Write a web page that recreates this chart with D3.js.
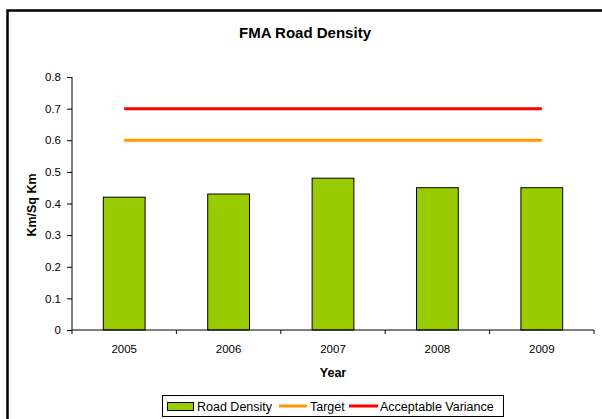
<!DOCTYPE html>
<html>
<head>
<meta charset="utf-8">
<script src="https://cdn.jsdelivr.net/npm/d3@7"></script>
<style>
  body { margin: 0; background: #fff; }
  svg { display: block; font-family: "Liberation Sans", Arial, sans-serif; }
</style>
</head>
<body>
<div id="chart"></div>
<script>
// data
var years = ["2005", "2006", "2007", "2008", "2009"];
var roadDensity = [0.42, 0.43, 0.48, 0.45, 0.45];
var target = [0.6, 0.6, 0.6, 0.6, 0.6];
var acceptableVariance = [0.7, 0.7, 0.7, 0.7, 0.7];
var yTicks = [0, 0.1, 0.2, 0.3, 0.4, 0.5, 0.6, 0.7, 0.8];

var W = 602, H = 419;
var margin = {left: 72, right: 8, top: 77, bottom: 89};

var svg = d3.select("#chart").append("svg")
    .attr("width", W)
    .attr("height", H);

// outer frame (runs off the right and bottom edge)
svg.append("rect")
    .attr("x", 7.5).attr("y", 10.5)
    .attr("width", 700).attr("height", 500)
    .attr("fill", "none")
    .attr("stroke", "#000")
    .attr("stroke-width", 2.5);

var x = d3.scaleBand()
    .domain(years)
    .range([margin.left, W - margin.right]);

var y = d3.scaleLinear()
    .domain([0, 0.8])
    .range([H - margin.bottom, margin.top]);

// title
svg.append("text")
    .attr("x", 305).attr("y", 38)
    .attr("text-anchor", "middle")
    .style("font-size", "15px")
    .style("font-weight", "bold")
    .text("FMA Road Density");

// y axis
var yAxis = svg.append("g")
    .attr("transform", "translate(" + margin.left + ",0)")
    .call(d3.axisLeft(y).tickValues(yTicks).tickSize(5).tickPadding(6)
        .tickFormat(function (d) { return d === 0 ? "0" : d3.format(".1f")(d); }));
yAxis.selectAll("text").style("font-size", "11.5px").attr("fill", "#000");
yAxis.selectAll("line, path").attr("stroke", "#000");
yAxis.select(".domain").attr("d", "M0," + y(0.8) + "V" + y(0));

// bars
var barW = x.bandwidth() / 2.5;
svg.append("g").selectAll("rect")
    .data(years)
    .join("rect")
    .attr("x", function (d) { return x(d) + (x.bandwidth() - barW) / 2; })
    .attr("y", function (d, i) { return y(roadDensity[i]); })
    .attr("width", barW)
    .attr("height", function (d, i) { return y(0) - y(roadDensity[i]); })
    .attr("fill", "#99cc00")
    .attr("stroke", "#000")
    .attr("stroke-width", 1);

// x axis, ticks between categories
var xAxisG = svg.append("g")
    .attr("transform", "translate(0," + y(0) + ")");
xAxisG.append("line")
    .attr("x1", x.range()[0]).attr("x2", x.range()[1])
    .attr("stroke", "#000");
var bounds = years.map(function (d) { return x(d); }).concat([x.range()[1]]);
xAxisG.selectAll("line.tk")
    .data(bounds)
    .join("line")
    .attr("class", "tk")
    .attr("x1", function (d) { return d; }).attr("x2", function (d) { return d; })
    .attr("y1", 0).attr("y2", 4)
    .attr("stroke", "#000");
xAxisG.selectAll("text")
    .data(years)
    .join("text")
    .attr("x", function (d) { return x(d) + x.bandwidth() / 2; })
    .attr("y", 23)
    .attr("text-anchor", "middle")
    .style("font-size", "11.5px")
    .text(function (d) { return d; });

// lines
var line = d3.line()
    .x(function (d, i) { return x(years[i]) + x.bandwidth() / 2; })
    .y(function (d) { return y(d); });

svg.append("path")
    .datum(target)
    .attr("fill", "none")
    .attr("stroke", "#ff9900")
    .attr("stroke-width", 3)
    .attr("d", line);

svg.append("path")
    .datum(acceptableVariance)
    .attr("fill", "none")
    .attr("stroke", "#ff0000")
    .attr("stroke-width", 3)
    .attr("d", line);

// axis titles
svg.append("text")
    .attr("x", (x.range()[0] + x.range()[1]) / 2)
    .attr("y", 377)
    .attr("text-anchor", "middle")
    .style("font-size", "12.5px")
    .style("font-weight", "bold")
    .text("Year");

svg.append("text")
    .attr("transform", "translate(36," + 205 + ") rotate(-90)")
    .attr("text-anchor", "middle")
    .style("font-size", "12.5px")
    .style("font-weight", "bold")
    .text("Km/Sq Km");

// legend
var legend = svg.append("g");
legend.append("rect")
    .attr("x", 162.5).attr("y", 395.5)
    .attr("width", 341).attr("height", 21)
    .attr("fill", "#fff")
    .attr("stroke", "#000");
legend.append("rect")
    .attr("x", 167.5).attr("y", 402.5)
    .attr("width", 26).attr("height", 8)
    .attr("fill", "#99cc00")
    .attr("stroke", "#000");
legend.append("text")
    .attr("x", 197).attr("y", 410.5)
    .style("font-size", "12.5px")
    .text("Road Density");
legend.append("line")
    .attr("x1", 279).attr("x2", 307)
    .attr("y1", 406).attr("y2", 406)
    .attr("stroke", "#ff9900").attr("stroke-width", 3);
legend.append("text")
    .attr("x", 310).attr("y", 410.5)
    .style("font-size", "12.5px")
    .text("Target");
legend.append("line")
    .attr("x1", 349).attr("x2", 378)
    .attr("y1", 406).attr("y2", 406)
    .attr("stroke", "#ff0000").attr("stroke-width", 3);
legend.append("text")
    .attr("x", 380).attr("y", 410.5)
    .style("font-size", "12.5px")
    .text("Acceptable Variance");
</script>
</body>
</html>
